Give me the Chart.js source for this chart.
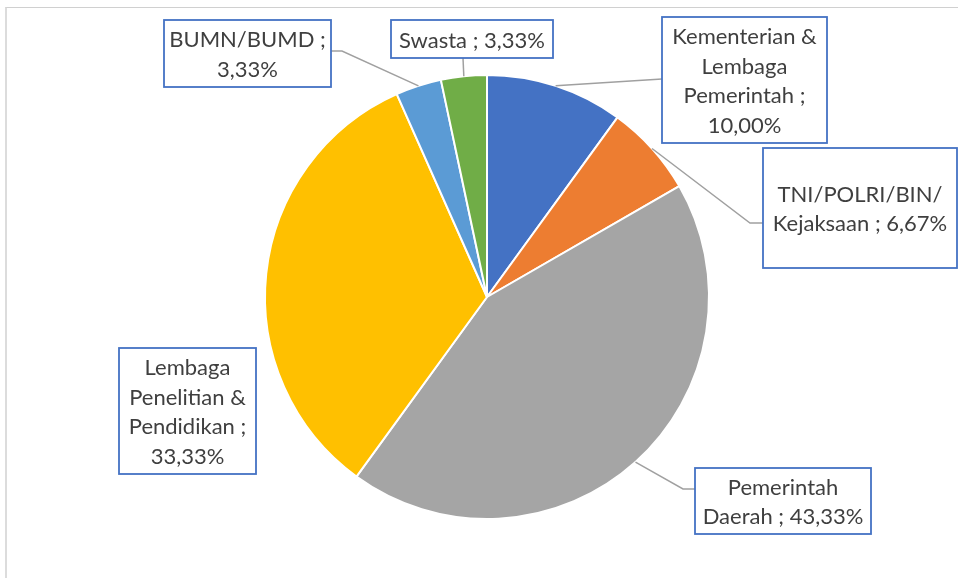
<!DOCTYPE html>
<html>
<head>
<meta charset="utf-8">
<script src="https://cdn.jsdelivr.net/npm/chart.js@4.4.0/dist/chart.umd.min.js"></script>
<style>
    html, body { margin: 0; padding: 0; background: #fff; }
    #wrap { position: relative; width: 958px; height: 578px; overflow: hidden; }
    #frame { position: absolute; left: 5px; top: 7px; right: -5px; bottom: -5px;
             border-left: 2px solid #dcdcdc; border-top: 1px solid #d0d0d0; }
    canvas { position: absolute; left: 0; top: 0; }
</style>
</head>
<body>
<div id="wrap">
    <div id="frame"></div>
    <canvas id="pieChart" width="958" height="578"></canvas>
</div>
<script>
    // Data
    const categories = [
        'Kementerian & Lembaga Pemerintah',
        'TNI/POLRI/BIN/Kejaksaan',
        'Pemerintah Daerah',
        'Lembaga Penelitian & Pendidikan',
        'BUMN/BUMD',
        'Swasta'
    ];
    const percentages = [10.00, 6.67, 43.33, 33.33, 3.33, 3.33];
    const sliceColors = ['#4472C4', '#ED7D31', '#A5A5A5', '#FFC000', '#5B9BD5', '#70AD47'];

    // Label boxes (position of each callout, same order as categories)
    const labelBoxes = [
        { x: 662, y: 17, w: 165, h: 126, attach: [662, 79] },
        { x: 763, y: 148, w: 194, h: 120, attach: [763, 223], elbow: [750, 223] },
        { x: 695, y: 468, w: 176, h: 66, attach: [695, 489], elbow: [683, 489] },
        { x: 119, y: 348, w: 137, h: 126 },
        { x: 164, y: 20, w: 167, h: 67, attach: [331, 51], elbow: [342, 51] },
        { x: 391, y: 20, w: 162, h: 38, attach: [463, 58] }
    ];

    const FONT = '22px Lato';
    const LINE_H = 29.5;

    function fmt(v) {
        return v.toFixed(2).replace('.', ',') + '%';
    }

    // split on spaces, and after '/'
    function tokenize(s) {
        const out = [];
        s.split(' ').forEach((w, i) => {
            const parts = w.match(/[^\/]+\/?|\//g) || [w];
            parts.forEach((p, j) => out.push({ t: p, sp: j === 0 && i > 0 }));
        });
        return out;
    }

    function wrapText(ctx, text, maxW) {
        const lines = [];
        let line = '';
        tokenize(text).forEach(tok => {
            const cand = line ? line + (tok.sp ? ' ' : '') + tok.t : tok.t;
            if (line && ctx.measureText(cand).width > maxW) {
                lines.push(line);
                line = tok.t;
            } else {
                line = cand;
            }
        });
        if (line) lines.push(line);
        return lines;
    }

    // Callout plugin
    const calloutPlugin = {
        id: 'callouts',
        afterDatasetsDraw(chart) {
            const ctx = chart.ctx;
            const meta = chart.getDatasetMeta(0);
            ctx.save();
            ctx.font = FONT;
            meta.data.forEach((arc, i) => {
                const box = labelBoxes[i];
                const p = arc.getProps(['x', 'y', 'startAngle', 'endAngle', 'outerRadius'], true);
                const mid = (p.startAngle + p.endAngle) / 2;
                const ax = p.x + Math.cos(mid) * p.outerRadius;
                const ay = p.y + Math.sin(mid) * p.outerRadius;

                // leader line
                if (box.attach) {
                    ctx.beginPath();
                    ctx.moveTo(ax, ay);
                    if (box.elbow) ctx.lineTo(box.elbow[0], box.elbow[1]);
                    ctx.lineTo(box.attach[0], box.attach[1]);
                    ctx.strokeStyle = '#A0A0A0';
                    ctx.lineWidth = 1.5;
                    ctx.stroke();
                }

                // box
                ctx.fillStyle = '#ffffff';
                ctx.fillRect(box.x, box.y, box.w, box.h);
                ctx.strokeStyle = '#4472C4';
                ctx.lineWidth = 1.8;
                ctx.strokeRect(box.x, box.y, box.w, box.h);

                // text
                const text = categories[i] + ' ; ' + fmt(percentages[i]);
                const lines = wrapText(ctx, text, box.w - 6);
                ctx.fillStyle = '#3f3f3f';
                ctx.textAlign = 'center';
                ctx.textBaseline = 'middle';
                const cy = box.y + box.h / 2 + 1.5;
                const top = cy - (lines.length - 1) * LINE_H / 2;
                lines.forEach((ln, k) => {
                    ctx.fillText(ln, box.x + box.w / 2, top + k * LINE_H);
                });
            });
            ctx.restore();
        }
    };

    const ctx = document.getElementById('pieChart').getContext('2d');

    const pieChart = new Chart(ctx, {
        type: 'pie',
        data: {
            labels: categories,
            datasets: [{
                data: percentages,
                backgroundColor: sliceColors,
                borderColor: '#ffffff',
                borderWidth: 2
            }]
        },
        options: {
            responsive: false,
            animation: false,
            layout: {
                padding: { left: 264, right: 248, top: 74, bottom: 58 }
            },
            plugins: {
                legend: { display: false },
                tooltip: { enabled: false }
            }
        },
        plugins: [calloutPlugin]
    });
</script>
</body>
</html>
